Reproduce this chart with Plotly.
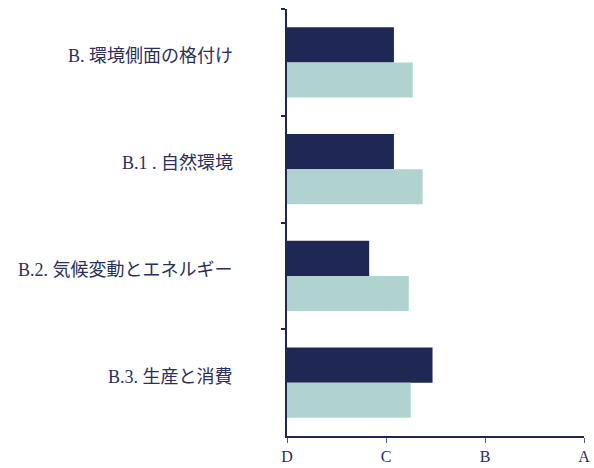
import plotly.graph_objects as go

categories = ["B. 環境側面の格付け", "B.1 . 自然環境", "B.2. 気候変動とエネルギー", "B.3. 生産と消費"]
series_dark = [1.08, 1.08, 0.83, 1.47]
series_light = [1.27, 1.37, 1.23, 1.25]
x_tick_vals = [0, 1, 2, 3]
x_tick_text = ["D", "C", "B", "A"]

navy = "#1f2755"
teal = "#b1d3d0"
text_col = "#2b2f5e"
font_fam = "Liberation Serif, Times New Roman, Noto Sans CJK JP, serif"

fig = go.Figure()
fig.add_trace(go.Bar(y=categories, x=series_dark, orientation="h", marker_color=navy,
                     marker_line_width=0, showlegend=False))
fig.add_trace(go.Bar(y=categories, x=series_light, orientation="h", marker_color=teal,
                     marker_line_width=0, showlegend=False))

for c in categories:
    fig.add_annotation(x=0, xref="paper", xanchor="right", xshift=-52,
                       y=c, yref="y", yshift=6, showarrow=False, text=c,
                       font=dict(size=18, color=text_col, family=font_fam))

fig.update_layout(
    width=594, height=468,
    margin=dict(l=287, r=10, t=9, b=32, autoexpand=False),
    barmode="group", bargap=0.34, bargroupgap=0,
    plot_bgcolor="white", paper_bgcolor="white",
    font=dict(family=font_fam, color=text_col),
    xaxis=dict(range=[0, 3], tickvals=x_tick_vals, ticktext=x_tick_text,
               showgrid=False, zeroline=False, showline=True, linecolor=navy, linewidth=1.5,
               ticks="outside", ticklen=5, tickcolor="#555a75", tickwidth=1.2,
               tickfont=dict(size=16, color=text_col, family=font_fam)),
    yaxis=dict(autorange="reversed", showgrid=False, zeroline=False, showline=True,
               linecolor=navy, linewidth=1.5, ticks="outside", ticklen=4, tickcolor=navy,
               tickwidth=1.5, tickson="boundaries", showticklabels=False),
)

fig.write_html("out.html", config={"displayModeBar": False},
               post_script="document.body.style.margin='0';document.body.style.overflow='hidden';")
